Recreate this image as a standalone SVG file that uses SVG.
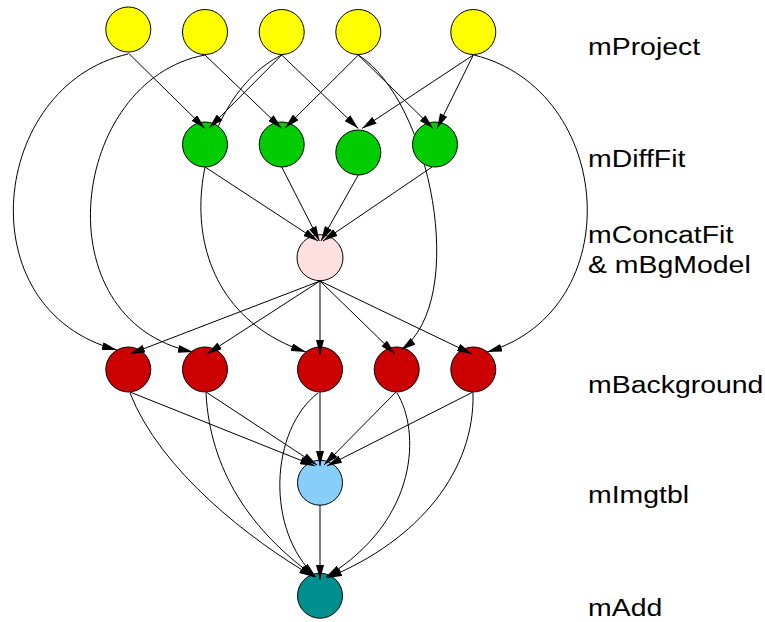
<svg xmlns="http://www.w3.org/2000/svg" width="765" height="622" viewBox="0 0 765 622">
  <style>
    .node { stroke: #000; stroke-width: 1; }
    .proj { fill: #ffff00; }
    .diff { fill: #00cc00; }
    .concat { fill: #ffe0e0; }
    .bg { fill: #cc0000; }
    .tbl { fill: #87cefa; }
    .add { fill: #008f8f; }
    .edge { fill: none; stroke: #000; stroke-width: 1; marker-end: url(#arrow); }
    .label { font-family: "Liberation Sans", Arial, sans-serif; font-size: 23.5px; fill: #000; }
  </style>
  <defs>
    <marker id="arrow" viewBox="0 0 15 8" refX="15" refY="4" markerWidth="15" markerHeight="8" markerUnits="userSpaceOnUse" orient="auto">
      <path d="M0,0 L15,4 L0,8 z" fill="#000"/>
    </marker>
    <!-- long curves run behind the mDiffFit nodes they pass -->
    <mask id="behindD1" maskUnits="userSpaceOnUse" x="0" y="0" width="765" height="622">
      <rect x="0" y="0" width="765" height="622" fill="#fff"/>
      <circle cx="205" cy="144.5" r="23" fill="#000"/>
    </mask>
    <mask id="behindD4" maskUnits="userSpaceOnUse" x="0" y="0" width="765" height="622">
      <rect x="0" y="0" width="765" height="622" fill="#fff"/>
      <circle cx="435" cy="144.5" r="23" fill="#000"/>
    </mask>
  </defs>
  <rect width="765" height="622" fill="#fff"/>

  <!-- nodes -->
  <g id="p1"><circle class="node proj" cx="128.3" cy="29.5" r="22.5"/></g>
  <g id="p2"><circle class="node proj" cx="205" cy="32" r="22.5"/></g>
  <g id="p3"><circle class="node proj" cx="281.7" cy="32" r="22.5"/></g>
  <g id="p4"><circle class="node proj" cx="358.3" cy="32" r="22.5"/></g>
  <g id="p5"><circle class="node proj" cx="473.3" cy="32" r="22.5"/></g>

  <g id="d1"><circle class="node diff" cx="205" cy="144.5" r="22.5"/></g>
  <g id="d2"><circle class="node diff" cx="281.7" cy="144.5" r="22.5"/></g>
  <g id="d3"><circle class="node diff" cx="358.3" cy="152.5" r="22.5"/></g>
  <g id="d4"><circle class="node diff" cx="435" cy="144.5" r="22.5"/></g>

  <g id="concat"><circle class="node concat" cx="320" cy="257.7" r="23"/></g>

  <g id="b1"><circle class="node bg" cx="128.3" cy="369.5" r="22.5"/></g>
  <g id="b2"><circle class="node bg" cx="205" cy="369.5" r="22.5"/></g>
  <g id="b3"><circle class="node bg" cx="320" cy="369.5" r="22.5"/></g>
  <g id="b4"><circle class="node bg" cx="396.7" cy="369.5" r="22.5"/></g>
  <g id="b5"><circle class="node bg" cx="473.3" cy="369.5" r="22.5"/></g>

  <g id="imgtbl"><circle class="node tbl" cx="320" cy="482.7" r="22.5"/></g>
  <g id="add"><circle class="node add" cx="320" cy="595.7" r="22.5"/></g>

  <!-- connectors -->
  <g id="connectors">
    <!-- mProject -> mDiffFit -->
    <path class="edge" d="M128.3,53 L205,128.5"/>
    <path class="edge" d="M281.7,55 L209,128"/>
    <path class="edge" d="M205,55 L281.7,128.5"/>
    <path class="edge" d="M358.3,55 L285,128"/>
    <path class="edge" d="M281.7,55 L358.3,128.5"/>
    <path class="edge" d="M473.3,55 L362,128.5"/>
    <path class="edge" d="M358.3,55 L433.3,128.5"/>
    <path class="edge" d="M473.3,55 L437,128.5"/>

    <!-- mProject -> mBackground -->
    <path class="edge" d="M128,54 C-10,85 -35,310 117,350"/>
    <path class="edge" d="M205,55 C70,80 40,320 193,352"/>
    <path class="edge" mask="url(#behindD1)" d="M281.7,55 C190,100 150,300 306,352"/>
    <path class="edge" mask="url(#behindD4)" d="M358.3,55 C430,100 470,300 401,350"/>
    <path class="edge" d="M474,55 C615,90 630,310 487,352"/>

    <!-- mDiffFit -> mConcatFit -->
    <path class="edge" d="M205,167 L318,241"/>
    <path class="edge" d="M281.7,167 L319.5,241"/>
    <path class="edge" d="M358.3,175 L321,241"/>
    <path class="edge" d="M432,167 L323,241"/>

    <!-- mConcatFit -> mBackground -->
    <path class="edge" d="M320,281 L130,354"/>
    <path class="edge" d="M320,281 L207,354"/>
    <path class="edge" d="M320,281 L320,355"/>
    <path class="edge" d="M320,281 L395,354"/>
    <path class="edge" d="M320,281 L472,354"/>

    <!-- mBackground -> mImgtbl -->
    <path class="edge" d="M130,392 L315,466"/>
    <path class="edge" d="M206,392 L317,465"/>
    <path class="edge" d="M320,392 L320,466"/>
    <path class="edge" d="M396,392 L324,465"/>
    <path class="edge" d="M473,392 L327,466"/>

    <!-- mBackground -> mAdd -->
    <path class="edge" d="M130,393 C160,470 250,540 314,577"/>
    <path class="edge" d="M206,393 C210,470 250,530 315,577"/>
    <path class="edge" d="M318,393 C270,430 265,530 316,577"/>
    <path class="edge" d="M397,393 C420,430 420,520 326,577"/>
    <path class="edge" d="M473,393 C475,470 420,540 327,578"/>

    <!-- mImgtbl -> mAdd -->
    <path class="edge" d="M320,505 L320,580"/>
  </g>

  <!-- stage labels -->
  <g id="labels" transform="translate(588 0) scale(1.21 1)">
    <text class="label" x="0" y="55">mProject</text>
    <text class="label" x="0" y="167">mDiffFit</text>
    <text class="label" x="0" y="243.5">mConcatFit</text>
    <text class="label" x="0" y="273">&amp; mBgModel</text>
    <text class="label" x="0" y="393">mBackground</text>
    <text class="label" x="0" y="503">mImgtbl</text>
    <text class="label" x="0" y="616">mAdd</text>
  </g>
</svg>
